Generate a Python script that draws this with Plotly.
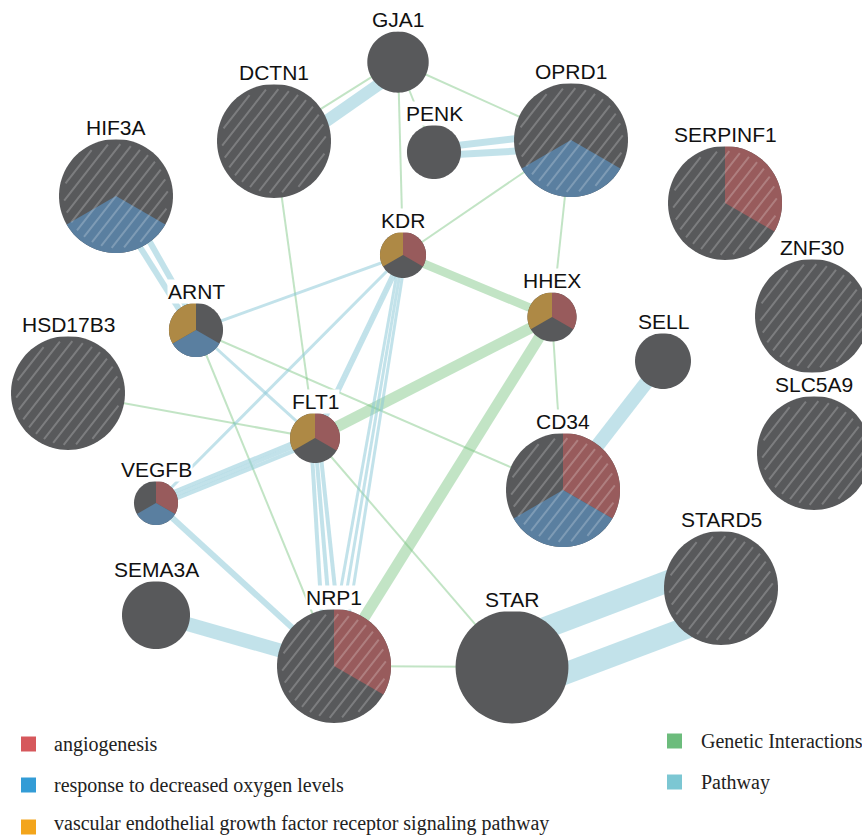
import math
import plotly.graph_objects as go

# ---- network data -------------------------------------------------------
genes = ["GJA1", "DCTN1", "OPRD1", "PENK", "HIF3A", "SERPINF1", "KDR", "ARNT",
         "HHEX", "SELL", "ZNF30", "HSD17B3", "SLC5A9", "FLT1", "VEGFB", "CD34",
         "STARD5", "SEMA3A", "NRP1", "STAR"]
# force-directed layout coordinates (screen-like units, y grows downward)
layout_x = [398, 274, 571, 434, 116, 725, 403, 196, 552, 663, 812, 68, 814,
            315, 156, 563, 721, 156, 334, 512]
layout_y = [62, 141, 140, 152, 196, 203, 255, 330, 317, 361, 316, 393, 453,
            438, 503, 490, 588, 615, 666, 667]
# gene scores (query genes = 1.0)
scores = [0.29, 1.0, 1.0, 0.225, 1.0, 1.0, 0.163, 0.225, 0.185, 0.241, 1.0,
          1.0, 1.0, 0.192, 0.149, 1.0, 1.0, 0.356, 1.0, 0.98]
query_genes = ["DCTN1", "OPRD1", "HIF3A", "SERPINF1", "ZNF30", "HSD17B3",
               "SLC5A9", "CD34", "STARD5", "NRP1"]

# functional annotations
functions = ["angiogenesis",
             "response to decreased oxygen levels",
             "vascular endothelial growth factor receptor signaling pathway"]
function_genes = [
    ["SERPINF1", "KDR", "HHEX", "FLT1", "VEGFB", "CD34", "NRP1"],
    ["HIF3A", "OPRD1", "ARNT", "VEGFB", "CD34"],
    ["KDR", "HHEX", "FLT1", "ARNT"],
]

# interactions (repeated rows = several networks linking the same pair)
edge_source = ["DCTN1", "GJA1", "GJA1", "GJA1", "DCTN1", "OPRD1", "OPRD1",
               "KDR", "HHEX", "HHEX", "HHEX", "ARNT", "HSD17B3", "ARNT",
               "FLT1", "NRP1",
               "DCTN1", "PENK", "PENK", "HIF3A", "HIF3A", "ARNT", "ARNT",
               "KDR", "KDR", "KDR", "KDR", "KDR", "KDR", "FLT1", "FLT1",
               "FLT1", "VEGFB", "VEGFB", "VEGFB", "VEGFB", "SEMA3A", "SELL",
               "STAR", "STAR"]
edge_target = ["GJA1", "KDR", "PENK", "OPRD1", "FLT1", "KDR", "HHEX",
               "HHEX", "FLT1", "NRP1", "CD34", "CD34", "FLT1", "NRP1",
               "STAR", "STAR",
               "GJA1", "OPRD1", "OPRD1", "ARNT", "ARNT", "KDR", "FLT1",
               "VEGFB", "FLT1", "FLT1", "NRP1", "NRP1", "NRP1", "NRP1", "NRP1",
               "NRP1", "FLT1", "FLT1", "FLT1", "NRP1", "NRP1", "CD34",
               "STARD5", "STARD5"]
edge_type = (["Genetic Interactions"] * 16) + (["Pathway"] * 24)
edge_weight = [0.02, 0.02, 0.02, 0.02, 0.02, 0.02, 0.02,
               0.085, 0.11, 0.11, 0.02, 0.02, 0.02, 0.02,
               0.02, 0.02,
               0.12, 0.07, 0.07, 0.06, 0.06, 0.03, 0.03,
               0.03, 0.03, 0.03, 0.03, 0.03, 0.03, 0.04, 0.04,
               0.04, 0.04, 0.04, 0.04, 0.06, 0.14, 0.14,
               0.22, 0.22]

legend_left = functions
legend_right = ["Genetic Interactions", "Pathway"]

# ---- styling ---------------------------------------------------------------
W, H = 862, 836
R_MAX = 57
NODE_GRAY = "#58595b"
SLICE_COLORS = ["#985b5c", "#5a7fa0", "#ae8945"]
FUNC_COLORS = ["#d6585c", "#339cd6", "#f3a51c"]
EDGE_COLORS = {"Genetic Interactions": "rgba(120,196,126,0.45)",
               "Pathway": "rgba(138,200,214,0.52)"}
NET_COLORS = ["#6cbc7c", "#7cc7d3"]
WIDTH_SCALE = 100   # px per weight unit
SPREAD = 25.0       # parallel edges fan out by radius * width / SPREAD

pos = {g: (x, y) for g, x, y in zip(genes, layout_x, layout_y)}
radius = {g: R_MAX * math.sqrt(s) for g, s in zip(genes, scores)}

shapes = []

# ---- edges (straight "haystack" lines, drawn first) ----------------------------
pair_total = {}
for s, t in zip(edge_source, edge_target):
    pair_total[(s, t)] = pair_total.get((s, t), 0) + 1
pair_seen = {}
for s, t, kind, w in zip(edge_source, edge_target, edge_type, edge_weight):
    key = (s, t)
    n = pair_total[key]
    i = pair_seen.get(key, 0)
    pair_seen[key] = i + 1
    x0, y0 = pos[s]
    x1, y1 = pos[t]
    width = w * WIDTH_SCALE
    if n > 1:
        dx, dy = x1 - x0, y1 - y0
        L = math.hypot(dx, dy)
        nx, ny = -dy / L, dx / L
        rank = i - (n - 1) / 2
        o0 = rank * radius[s] * width / SPREAD
        o1 = rank * radius[t] * width / SPREAD
        x0, y0 = x0 + nx * o0, y0 + ny * o0
        x1, y1 = x1 + nx * o1, y1 + ny * o1
    path = f"M {x0:.2f},{y0:.2f} L {x1:.2f},{y1:.2f}"
    shapes.append(dict(type="path", path=path, xref="x", yref="y",
                       line=dict(color=EDGE_COLORS[kind], width=width),
                       layer="above"))


# ---- nodes -------------------------------------------------------------------
def arc_points(cx, cy, r, a0, a1, n=40):
    pts = []
    for k in range(n + 1):
        a = math.radians(a0 + (a1 - a0) * k / n)
        pts.append((cx + r * math.sin(a), cy - r * math.cos(a)))
    return pts


def circle_path(cx, cy, r):
    pts = arc_points(cx, cy, r, 0, 360, 90)
    return "M " + " L ".join(f"{x:.2f},{y:.2f}" for x, y in pts) + " Z"


def hatch_path(cx, cy, r, spacing=9.5, angle=52, inset=5):
    phi = math.radians(angle)
    dx, dy = math.cos(phi), -math.sin(phi)
    nx, ny = math.sin(phi), math.cos(phi)
    ri = r - inset
    parts = []
    k = -int(ri // spacing)
    while k * spacing < ri:
        o = k * spacing
        if abs(o) < ri - 2:
            h = math.sqrt(ri * ri - o * o)
            px, py = cx + nx * o, cy + ny * o
            parts.append(f"M {px - dx * h:.2f},{py - dy * h:.2f} "
                         f"L {px + dx * h:.2f},{py + dy * h:.2f}")
        k += 1
    return " ".join(parts)


for g in genes:
    cx, cy = pos[g]
    r = radius[g]
    shapes.append(dict(type="path", path=circle_path(cx, cy, r),
                       xref="x", yref="y", fillcolor=NODE_GRAY,
                       line=dict(width=0), layer="above"))
    members = [g in fg for fg in function_genes]
    for slot, present in enumerate(members):
        if not present:
            continue
        pts = arc_points(cx, cy, r, slot * 120, (slot + 1) * 120)
        path = (f"M {cx},{cy} L " +
                " L ".join(f"{x:.2f},{y:.2f}" for x, y in pts) + " Z")
        shapes.append(dict(type="path", path=path, xref="x", yref="y",
                           fillcolor=SLICE_COLORS[slot],
                           line=dict(width=0), layer="above"))
    if g in query_genes:
        shapes.append(dict(type="path", path=hatch_path(cx, cy, r),
                           xref="x", yref="y",
                           line=dict(color="rgba(255,255,255,0.22)", width=2),
                           layer="above"))

# ---- gene labels ---------------------------------------------------------------
annotations = []
for g in genes:
    cx, cy = pos[g]
    r = radius[g]
    annotations.append(dict(x=cx, y=cy - r + 1, xref="x", yref="y",
                            text=g, showarrow=False, xanchor="center",
                            yanchor="bottom", bgcolor="white", borderpad=0,
                            font=dict(family="Liberation Sans, Arial",
                                      size=21, color="#111111")))

# ---- legends -------------------------------------------------------------------
fig = go.Figure()
leg_left_y = [744, 785, 827]
leg_right_y = [741, 782]
fig.add_trace(go.Scatter(x=[28.5] * 3, y=leg_left_y, mode="markers",
                         marker=dict(symbol="square", size=15,
                                     color=FUNC_COLORS, line=dict(width=0)),
                         hoverinfo="skip", showlegend=False))
fig.add_trace(go.Scatter(x=[674.5] * 2, y=leg_right_y, mode="markers",
                         marker=dict(symbol="square", size=15,
                                     color=NET_COLORS, line=dict(width=0)),
                         hoverinfo="skip", showlegend=False))
text_y = [744, 785, 823]
for txt, y in zip(legend_left, text_y):
    annotations.append(dict(x=52, y=y, xref="x", yref="y", text=txt,
                            showarrow=False, xanchor="left", yanchor="middle",
                            font=dict(family="Liberation Serif, Times New Roman",
                                      size=20, color="#222222")))
for txt, y in zip(legend_right, leg_right_y):
    annotations.append(dict(x=699, y=y, xref="x", yref="y", text=txt,
                            showarrow=False, xanchor="left", yanchor="middle",
                            font=dict(family="Liberation Serif, Times New Roman",
                                      size=20, color="#222222")))

fig.update_layout(
    width=W, height=H, autosize=False,
    margin=dict(l=0, r=0, t=0, b=0),
    paper_bgcolor="white", plot_bgcolor="white",
    xaxis=dict(range=[0, W], visible=False, fixedrange=True),
    yaxis=dict(range=[H, 0], visible=False, fixedrange=True),
    shapes=shapes, annotations=annotations, showlegend=False,
)
fig.write_html("out.html", config={"displayModeBar": False})
